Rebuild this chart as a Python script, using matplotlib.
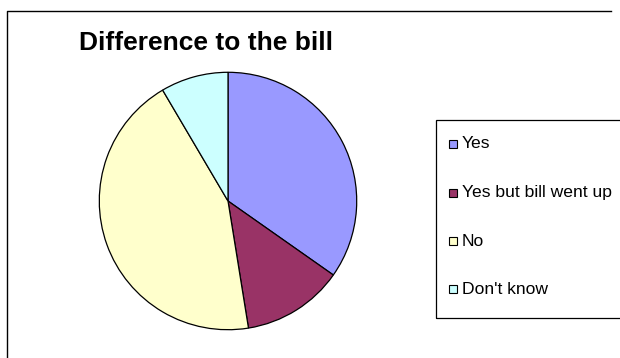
import matplotlib
matplotlib.use("Agg")
import matplotlib.pyplot as plt
from matplotlib.patches import Rectangle
from matplotlib.lines import Line2D

plt.rcParams['font.family'] = ['Liberation Sans', 'DejaVu Sans']

categories = ["Yes", "Yes but bill went up", "No", "Don't know"]
values = [41, 15, 52, 10]
colors = ["#9999FF", "#993366", "#FFFFCC", "#CCFFFF"]
title = "Difference to the bill"

W, H = 620, 358
fig = plt.figure(figsize=(W / 100, H / 100), dpi=100)
fig.patch.set_facecolor("white")


def px_rect(x0, y0, x1, y1):
    """Convert a pixel box (top-left origin) to figure fraction [l, b, w, h]."""
    return [x0 / W, 1 - y1 / H, (x1 - x0) / W, (y1 - y0) / H]


def fx(x):
    return x / W


def fy(y):
    return 1 - y / H


# outer chart frame (left and top edges)
fig.lines.append(Line2D([fx(6.5), fx(6.5), fx(611)], [fy(400), fy(10.5), fy(10.5)],
                        transform=fig.transFigure, color="black", linewidth=1.0))

# pie
cx, cy, r = 228, 201, 130
ax = fig.add_axes(px_rect(cx - r, cy - r, cx + r, cy + r))
wedges, _ = ax.pie(values, colors=colors, startangle=90, counterclock=False,
                   radius=1.0,
                   wedgeprops=dict(edgecolor="black", linewidth=0.9))
ax.set_xlim(-1.01, 1.01)
ax.set_ylim(-1.01, 1.01)
ax.set_aspect("equal")
ax.axis("off")

# title
fig.text(fx(79), fy(50), title, fontsize=19, fontweight="bold",
         ha="left", va="baseline")

# legend frame
l, b, w, h = px_rect(435.5, 119.5, 640, 317.5)
fig.patches.append(Rectangle((l, b), w, h, transform=fig.transFigure,
                             fill=False, edgecolor="black", linewidth=0.9))

# legend entries
row_y = [144, 193, 241, 289]
for y, label, color in zip(row_y, categories, colors):
    l, b, w, h = px_rect(449, y - 4, 457, y + 4)
    fig.patches.append(Rectangle((l, b), w, h, transform=fig.transFigure,
                                 facecolor=color, edgecolor="black",
                                 linewidth=0.8))
    fig.text(fx(462), fy(y), label, fontsize=12.6, ha="left", va="center")

fig.savefig("out.png", dpi=100)
